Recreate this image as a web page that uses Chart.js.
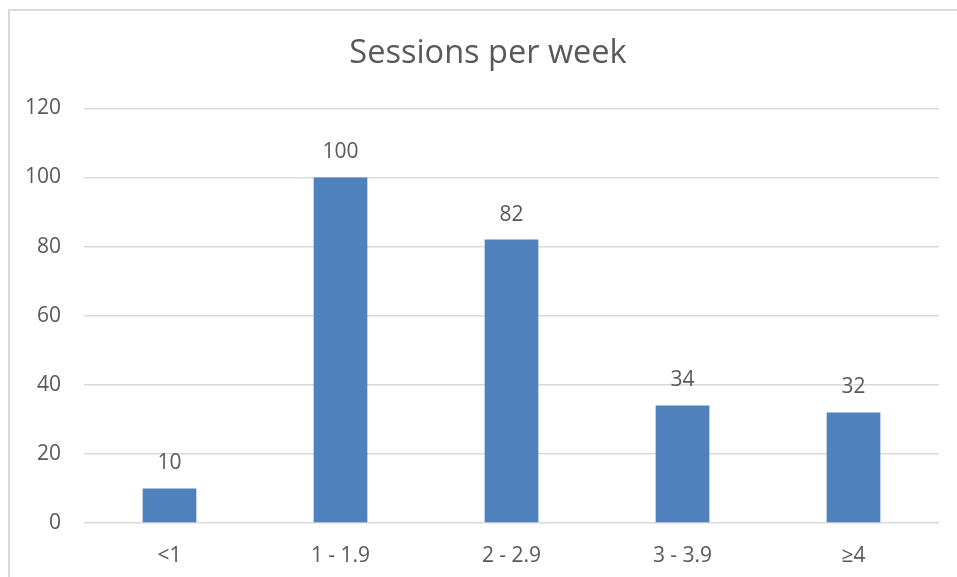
<!DOCTYPE html>
<html>
<head>
<meta charset="utf-8">
<script src="https://cdn.jsdelivr.net/npm/chart.js@4"></script>
<style>
  html, body { margin: 0; padding: 0; background: #fff; }
  #wrap { width: 957px; height: 577px; }
</style>
</head>
<body>
<div id="wrap"><canvas id="chart" width="957" height="577"></canvas></div>
<script>
const categories = ['<1', '1 - 1.9', '2 - 2.9', '3 - 3.9', '\u22654'];
const sessions = [10, 100, 82, 34, 32];
const yTicks = [0, 20, 40, 60, 80, 100, 120];
const chartTitle = 'Sessions per week';

const textColor = '#595959';
const fontFamily = '"Open Sans", "Liberation Sans", sans-serif';

// light frame on the left and top edges + title (centred a bit right of the canvas middle)
const framePlugin = {
  id: 'frame',
  beforeDraw(chart) {
    const ctx = chart.ctx;
    ctx.save();
    ctx.strokeStyle = '#d9d9d9';
    ctx.lineWidth = 2;
    ctx.beginPath();
    ctx.moveTo(9, 577);
    ctx.lineTo(9, 10);
    ctx.lineTo(957, 10);
    ctx.stroke();

    ctx.fillStyle = textColor;
    ctx.font = '32.5px ' + fontFamily;
    ctx.textAlign = 'center';
    ctx.textBaseline = 'middle';
    ctx.fillText(chartTitle, 488, 53.5);
    ctx.restore();
  }
};

// value labels above each bar
const valueLabels = {
  id: 'valueLabels',
  afterDatasetsDraw(chart) {
    const ctx = chart.ctx;
    const meta = chart.getDatasetMeta(0);
    ctx.save();
    ctx.fillStyle = textColor;
    ctx.font = '21px ' + fontFamily;
    ctx.textAlign = 'center';
    ctx.textBaseline = 'middle';
    meta.data.forEach((bar, i) => {
      ctx.fillText(String(sessions[i]), bar.x, bar.y - 25);
    });
    ctx.restore();
  }
};

new Chart(document.getElementById('chart'), {
  type: 'bar',
  data: {
    labels: categories,
    datasets: [{
      label: chartTitle,
      data: sessions,
      backgroundColor: '#4f81bd',
      categoryPercentage: 1,
      barPercentage: 0.314,
    }],
  },
  options: {
    responsive: false,
    animation: false,
    layout: { padding: { left: 0, right: 18, top: 108.3, bottom: 0 } },
    plugins: {
      legend: { display: false },
      tooltip: { enabled: false },
      title: { display: false },
    },
    scales: {
      x: {
        grid: { display: false, drawTicks: false },
        border: { display: false },
        ticks: { color: textColor, font: { family: fontFamily, size: 21 }, padding: 20 },
        afterFit(scale) { scale.height = 54; },
      },
      y: {
        min: 0,
        max: 120,
        afterBuildTicks(scale) { scale.ticks = yTicks.map(v => ({ value: v })); },
        grid: { color: '#d9d9d9', lineWidth: 1.5, drawTicks: false },
        border: { display: false },
        ticks: { color: textColor, font: { family: fontFamily, size: 21 }, padding: 23 },
        afterFit(scale) { scale.width = 84; },
      },
    },
  },
  plugins: [framePlugin, valueLabels],
});
</script>
</body>
</html>
